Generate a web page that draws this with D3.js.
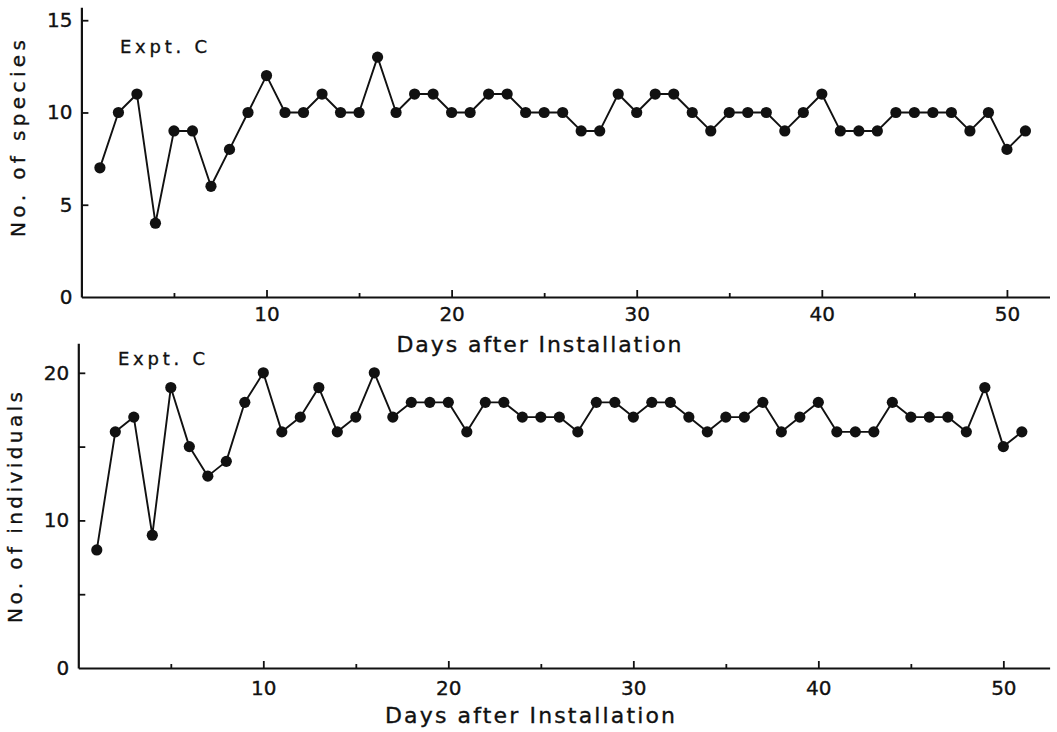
<!DOCTYPE html>
<html>
<head>
<meta charset="utf-8">
<script src="https://cdn.jsdelivr.net/npm/d3@7"></script>
<style>
  html, body { margin: 0; padding: 0; background: #fff; }
  svg { display: block; }
  text { font-family: "DejaVu Sans", "Liberation Sans", sans-serif; fill: #111;
         stroke: #111; stroke-width: 0.35px; }
</style>
</head>
<body>
<svg id="chart" width="1057" height="732"></svg>
<script>
// Daily counts recorded after installation (experiment C)
const days = [1,2,3,4,5,6,7,8,9,10,11,12,13,14,15,16,17,18,19,20,21,22,23,24,25,
              26,27,28,29,30,31,32,33,34,35,36,37,38,39,40,41,42,43,44,45,46,47,48,49,50,51];
const species = [7,10,11,4,9,9,6,8,10,12,10,10,11,10,10,13,10,11,11,10,10,11,11,10,10,
                 10,9,9,11,10,11,11,10,9,10,10,10,9,10,11,9,9,9,10,10,10,10,9,10,8,9];
const individuals = [8,16,17,9,19,15,13,14,18,20,16,17,19,16,17,20,17,18,18,18,16,18,18,17,17,
                     17,16,18,18,17,18,18,17,16,17,17,18,16,17,18,16,16,16,18,17,17,17,16,19,15,16];

const dayMajorTicks = [10, 20, 30, 40, 50];
const dayMinorTicks = [5, 15, 25, 35, 45];
const speciesTicks = [0, 5, 10, 15];
const individualsTicks = [0, 10, 20];
const individualsMinorTicks = [5, 15];

const panelLabel = "Expt. C";
const xTitle = "Days after Installation";
const speciesTitle = "No. of species";
const individualsTitle = "No. of individuals";

const svg = d3.select("#chart");
const ink = "#111";

function drawPanel(cfg) {
  const x = d3.scaleLinear().domain(cfg.xDomain).range(cfg.xRange);
  const y = d3.scaleLinear().domain(cfg.yDomain).range(cfg.yRange);
  const g = svg.append("g");

  // x axis: labelled decades, short unlabelled ticks at the fives
  g.append("g")
    .attr("transform", `translate(0,${y(0)})`)
    .call(d3.axisBottom(x).tickValues(dayMajorTicks).tickSizeInner(-7).tickSizeOuter(0)
      .tickPadding(cfg.xPad).tickFormat(d3.format("d")));
  g.append("g")
    .attr("transform", `translate(0,${y(0)})`)
    .call(d3.axisBottom(x).tickValues(dayMinorTicks).tickSizeInner(-4).tickSizeOuter(0).tickFormat(""))
    .call(a => a.select(".domain").remove());

  // y axis
  g.append("g")
    .attr("transform", `translate(${x(0)},0)`)
    .call(d3.axisLeft(y).tickValues(cfg.yTicks).tickSizeInner(-7).tickSizeOuter(0)
      .tickPadding(9).tickFormat(d3.format("d")))
    .call(a => a.selectAll(".tick").filter(d => d === 0).select("line").remove());
  if (cfg.yMinor) {
    g.append("g")
      .attr("transform", `translate(${x(0)},0)`)
      .call(d3.axisLeft(y).tickValues(cfg.yMinor).tickSizeInner(-7).tickSizeOuter(0).tickFormat(""))
      .call(a => a.select(".domain").remove());
  }

  g.selectAll(".domain").attr("stroke", ink).attr("stroke-width", 2.2);
  g.selectAll(".tick line").attr("stroke", ink).attr("stroke-width", 1.8);
  g.selectAll(".tick text").attr("fill", ink).style("font-size", "20px")
    .style("font-family", "'DejaVu Sans', sans-serif");

  // series line and dots
  const line = d3.line().x((d, i) => x(days[i])).y(d => y(d));
  g.append("path")
    .datum(cfg.values)
    .attr("d", line)
    .attr("fill", "none")
    .attr("stroke", ink)
    .attr("stroke-width", 1.9)
    .attr("stroke-linejoin", "round");
  g.selectAll("circle.pt")
    .data(cfg.values)
    .join("circle")
    .attr("class", "pt")
    .attr("cx", (d, i) => x(days[i]))
    .attr("cy", d => y(d))
    .attr("r", 5.6)
    .attr("fill", ink);

  // panel label
  g.append("text")
    .attr("x", cfg.label.x).attr("y", cfg.label.y)
    .attr("textLength", cfg.label.len).attr("lengthAdjust", "spacing")
    .style("font-size", "18px")
    .text(panelLabel);

  // axis titles
  g.append("text")
    .attr("x", cfg.xTitle.cx).attr("y", cfg.xTitle.y)
    .attr("text-anchor", "middle")
    .attr("textLength", cfg.xTitle.len).attr("lengthAdjust", "spacing")
    .style("font-size", "22px")
    .text(xTitle);
  g.append("text")
    .attr("transform", `translate(${cfg.yTitle.x},${cfg.yTitle.cy}) rotate(-90)`)
    .attr("text-anchor", "middle")
    .attr("textLength", cfg.yTitle.len).attr("lengthAdjust", "spacing")
    .style("font-size", "20px")
    .text(cfg.yTitle.text);
}

drawPanel({
  values: species,
  xDomain: [0, 52.3], xRange: [81.4, 1049.5],
  yDomain: [0, 15.7], yRange: [297, 7.3],
  yTicks: speciesTicks,
  xPad: 10,
  label: { x: 120, y: 53, len: 87 },
  xTitle: { cx: 539, y: 352, len: 285 },
  yTitle: { x: 25, cy: 138.5, len: 197, text: speciesTitle }
});

drawPanel({
  values: individuals,
  xDomain: [0, 52.5], xRange: [78.3, 1049.6],
  yDomain: [0, 22], yRange: [668, 343.3],
  yTicks: individualsTicks,
  yMinor: individualsMinorTicks,
  xPad: 13,
  label: { x: 118, y: 365, len: 87 },
  xTitle: { cx: 530, y: 723, len: 290 },
  yTitle: { x: 22, cy: 507.5, len: 231, text: individualsTitle }
});
</script>
</body>
</html>
